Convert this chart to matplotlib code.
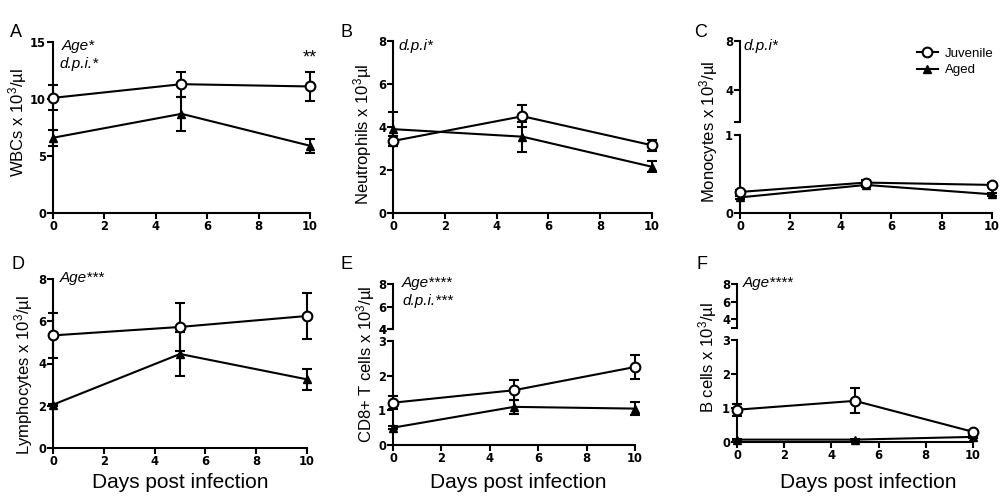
import numpy as np
import matplotlib
matplotlib.use('Agg')
import matplotlib.pyplot as plt
from matplotlib.lines import Line2D

plt.rcParams['font.family'] = ['Liberation Sans', 'DejaVu Sans']
plt.rcParams['mathtext.fontset'] = 'custom'
plt.rcParams['mathtext.rm'] = 'Liberation Sans'
plt.rcParams['mathtext.it'] = 'Liberation Sans:italic'

days = [0, 5, 10]

# mean, sem (x10^3/ul)
wbc_juv = [10.1, 11.3, 11.1]
wbc_juv_err = [1.1, 1.1, 1.3]
wbc_aged = [6.6, 8.7, 5.9]
wbc_aged_err = [0.7, 1.5, 0.6]

neu_juv = [3.35, 4.5, 3.15]
neu_juv_err = [0.25, 0.5, 0.25]
neu_aged = [3.9, 3.55, 2.15]
neu_aged_err = [0.8, 0.7, 0.25]

mono_juv = [0.27, 0.39, 0.36]
mono_juv_err = [0.02, 0.03, 0.02]
mono_aged = [0.2, 0.36, 0.24]
mono_aged_err = [0.02, 0.03, 0.02]

lym_juv = [5.33, 5.73, 6.25]
lym_juv_err = [1.06, 1.15, 1.1]
lym_aged = [2.05, 4.45, 3.25]
lym_aged_err = [0.05, 1.05, 0.5]

cd8_juv = [1.22, 1.58, 2.25]
cd8_juv_err = [0.19, 0.29, 0.35]
cd8_aged = [0.5, 1.1, 1.05]
cd8_aged_err = [0.05, 0.2, 0.18]

b_juv = [0.95, 1.21, 0.3]
b_juv_err = [0.18, 0.37, 0.03]
b_aged = [0.07, 0.07, 0.15]
b_aged_err = [0.02, 0.02, 0.02]

W, H = 1004, 500
fig = plt.figure(figsize=(W/100, H/100), dpi=100)

def rect(x0, y0, x1, y1):
	# pixel box (top-left origin) -> figure fraction
	return [x0/W, 1-y1/H, (x1-x0)/W, (y1-y0)/H]

def ftext(x, y, s, **kw):
	fig.text(x/W, 1-y/H, s, **kw)

def boldticks(ax):
	for lab in ax.get_xticklabels() + ax.get_yticklabels():
		lab.set_fontweight('bold')
		lab.set_family('DejaVu Sans')
		lab.set_fontsize(8.3)

def style(ax, bottom=True):
	for s in ['top', 'right']:
		ax.spines[s].set_visible(False)
	ax.spines['left'].set_linewidth(1.5)
	ax.spines['bottom'].set_linewidth(1.5)
	ax.tick_params(width=1.5, length=4, pad=1)
	ax.set_xlim(0, 10)
	if bottom:
		ax.set_xticks([0, 2, 4, 6, 8, 10])
	else:
		ax.spines['bottom'].set_visible(False)
		ax.set_xticks([])
	boldticks(ax)
	ax.patch.set_alpha(0)

def draw(ax, juv, juv_err, aged, aged_err):
	ax.errorbar(days, aged, yerr=aged_err, color='black', lw=1.5, marker='^', ms=6,
		mfc='black', mec='black', capsize=3.5, capthick=1.5, elinewidth=1.5, clip_on=False, zorder=3)
	ax.errorbar(days, juv, yerr=juv_err, color='black', lw=1.5, marker='o', ms=7,
		mfc='white', mec='black', mew=1.5, capsize=3.5, capthick=1.5, elinewidth=1.5, clip_on=False, zorder=4)

def simple(box, juv, juv_err, aged, aged_err, ylim, yticks):
	ax = fig.add_axes(rect(*box))
	draw(ax, juv, juv_err, aged, aged_err)
	ax.set_ylim(*ylim)
	ax.set_yticks(yticks)
	style(ax)
	return ax

def broken(box_lo, box_hi, juv, juv_err, aged, aged_err, ylo, yhi, ticks_lo, ticks_hi):
	ax = fig.add_axes(rect(*box_lo))
	draw(ax, juv, juv_err, aged, aged_err)
	ax.set_ylim(*ylo)
	ax.set_yticks(ticks_lo)
	style(ax)
	ax2 = fig.add_axes(rect(*box_hi))
	ax2.set_ylim(*yhi)
	ax2.set_yticks([yhi[0]] + ticks_hi)
	ax2.set_yticklabels([''] + [str(t) for t in ticks_hi])
	style(ax2, bottom=False)
	return ax, ax2

# A
axA = simple((53, 42, 310, 213), wbc_juv, wbc_juv_err, wbc_aged, wbc_aged_err, (0, 15), [0, 5, 10, 15])
axA.text(10, 13.6, '**', ha='center', va='center', fontsize=13)
# B
simple((393, 41, 652, 213), neu_juv, neu_juv_err, neu_aged, neu_aged_err, (0, 8), [0, 2, 4, 6, 8])
# C
axC, axC2 = broken((740, 135, 992, 213), (740, 41, 992, 122), mono_juv, mono_juv_err, mono_aged, mono_aged_err,
	(0, 1), (1.35, 8), [0, 1], [4, 8])
# D
simple((53, 279, 307, 448), lym_juv, lym_juv_err, lym_aged, lym_aged_err, (0, 8), [0, 2, 4, 6, 8])
# E
broken((393, 341, 635, 445), (393, 284, 635, 329), cd8_juv, cd8_juv_err, cd8_aged, cd8_aged_err,
	(0, 3), (4, 8), [0, 1, 2, 3], [4, 6, 8])
# F
broken((737, 340, 973, 442), (737, 284, 973, 328), b_juv, b_juv_err, b_aged, b_aged_err,
	(0, 3), (3, 8), [0, 1, 2, 3], [4, 6, 8])

# legend in C
handles = [Line2D([], [], color='black', lw=1.5, marker='o', ms=7, mfc='white', mew=1.5),
	Line2D([], [], color='black', lw=1.5, marker='^', ms=6)]
fig.legend(handles, ['Juvenile', 'Aged'], loc='upper left', bbox_to_anchor=(905/W, 1-36/H),
	frameon=False, fontsize=9.5, handlelength=1.6, handletextpad=0.5, labelspacing=0.3)

# panel letters
for x, y, s in [(10, 24, 'A'), (341, 24, 'B'), (694, 24, 'C'), (12, 256, 'D'), (341, 256, 'E'), (696, 256, 'F')]:
	ftext(x, y, s, fontsize=13, va='top', ha='left')

# y labels
ylabels = [(18, 122, 'WBCs x 10$^3$/µl'), (363, 134, 'Neutrophils x 10$^3$µl'),
	(709, 132, 'Monocytes x 10$^3$/µl'), (24, 375, 'Lymphocytes x 10$^3$/µl'),
	(366, 364, 'CD8+ T cells x 10$^3$/µl'), (708, 358, 'B cells x 10$^3$/µl')]
for x, y, s in ylabels:
	ftext(x, y, s, fontsize=12, rotation=90, ha='center', va='center')

# x labels
for x in [180, 518, 868]:
	ftext(x, 483, 'Days post infection', fontsize=15, ha='center', va='center')

# stats annotations
for x, y, s in [(62, 46, 'Age*'), (59, 64, 'd.p.i.*'), (398, 46, 'd.p.i*'), (743, 46, 'd.p.i*'),
	(60, 278, 'Age***'), (402, 283, 'Age****'), (402, 301, 'd.p.i.***'), (743, 283, 'Age****')]:
	ftext(x, y, s, fontsize=11, style='italic', ha='left', va='center')

plt.savefig('out.png', dpi=100)
